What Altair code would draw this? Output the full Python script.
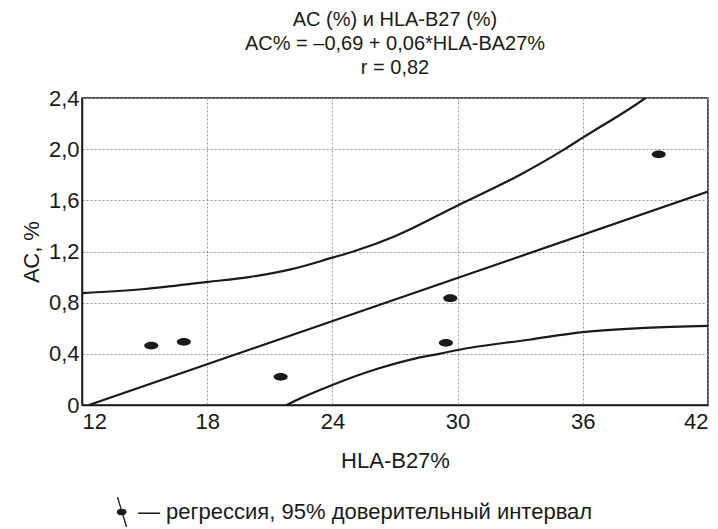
import altair as alt
import pandas as pd

# Observed points
pts_x = [15.32, 16.88, 21.52, 29.44, 29.65, 39.64]
pts_y = [0.465, 0.494, 0.22, 0.486, 0.835, 1.96]

# Regression line
reg_x = [12.33, 42.0]
reg_y = [0.0, 1.668]

# Upper 95% band
up_x = [12.0, 15.0, 18.0, 20.0, 22.0, 24.0, 25.0, 27.0, 30.0, 33.0, 35.13, 36.0, 39.0, 39.5]
up_y = [0.875, 0.907, 0.962, 1.0, 1.06, 1.152, 1.2, 1.32, 1.56, 1.80, 2.0, 2.09, 2.4, 2.46]

# Lower 95% band
lo_x = [21.8, 22.5, 24.0, 26.2, 28.0, 29.13, 30.0, 33.4, 36.0, 39.0, 42.0]
lo_y = [0.0, 0.055, 0.157, 0.285, 0.365, 0.40, 0.43, 0.51, 0.57, 0.603, 0.619]

x_ticks = [12, 18, 24, 30, 36, 42]
y_ticks = [0, 0.4, 0.8, 1.2, 1.6, 2.0, 2.4]

legend_label = "— регрессия, 95% доверительный интервал"

FONT = "Liberation Sans, Arial, Helvetica, sans-serif"
INK = "#1a1a1a"

pts = pd.DataFrame({"x": pts_x, "y": pts_y, "s": legend_label})
reg = pd.DataFrame({"x": reg_x, "y": reg_y})
up = pd.DataFrame({"x": up_x, "y": up_y})
lo = pd.DataFrame({"x": lo_x, "y": lo_y})

xscale = alt.Scale(domain=[12, 42], nice=False, zero=False)
yscale = alt.Scale(domain=[0, 2.4], nice=False)

xaxis = alt.Axis(values=x_ticks, title="HLA-B27%", grid=True, ticks=False,
                 labelPadding=6, titlePadding=18)
yaxis = alt.Axis(values=y_ticks, title="АС, %", grid=True, ticks=False,
                 labelPadding=3, titlePadding=5,
                 labelExpr="datum.value == 0 ? '0' : replace(format(datum.value, '.1f'), '.', ',')")

ellipse = "M-1,0A1,0.55 0 1,0 1,0A1,0.55 0 1,0 -1,0Z"
legend_sym = "M-0.3,-1L0.3,1M-0.3,0A0.28,0.18 0 1,0 0.26,0A0.28,0.18 0 1,0 -0.3,0Z"

points = alt.Chart(pts).mark_point(shape=ellipse, filled=True, size=200, opacity=1).encode(
    x=alt.X("x:Q", scale=xscale, axis=xaxis),
    y=alt.Y("y:Q", scale=yscale, axis=yaxis),
    color=alt.Color("s:N", scale=alt.Scale(range=[INK]),
                    legend=alt.Legend(title=None, orient="none", legendX=24, legendY=398,
                                      symbolType=legend_sym, symbolSize=900,
                                      symbolStrokeWidth=1.3, symbolStrokeColor=INK,
                                      labelFontSize=22, labelFont=FONT, labelColor=INK,
                                      labelOffset=0, labelLimit=700)),
)

def curve(df, interp):
    return alt.Chart(df).mark_line(color=INK, strokeWidth=2.2, clip=True,
                                   interpolate=interp).encode(
        x=alt.X("x:Q", scale=xscale),
        y=alt.Y("y:Q", scale=yscale),
    )

chart = alt.layer(
    curve(up, "monotone"), curve(lo, "monotone"), curve(reg, "linear"), points
).properties(
    width=626, height=307,
    autosize=alt.AutoSizeParams(type="none"),
    padding={"left": 74, "top": 90, "right": 2, "bottom": 122},
    title=alt.TitleParams(
        text=["AC (%) и HLA-B27 (%)", "AC% = –0,69 + 0,06*HLA-BA27%", "r = 0,82"],
        font=FONT, fontSize=20, fontWeight="normal", color=INK,
        lineHeight=24, anchor="middle", offset=9,
    ),
).configure_view(
    stroke=INK, strokeWidth=1.5,
).configure_axis(
    labelFont=FONT, titleFont=FONT, labelFontSize=22, titleFontSize=22,
    labelColor=INK, titleColor=INK, titleFontWeight="normal",
    gridColor="#999999", gridDash=[2, 2], gridWidth=1,
    domainColor=INK, domainWidth=1.5,
)

chart.save("out.html", embed_options={"renderer": "svg", "actions": False})
